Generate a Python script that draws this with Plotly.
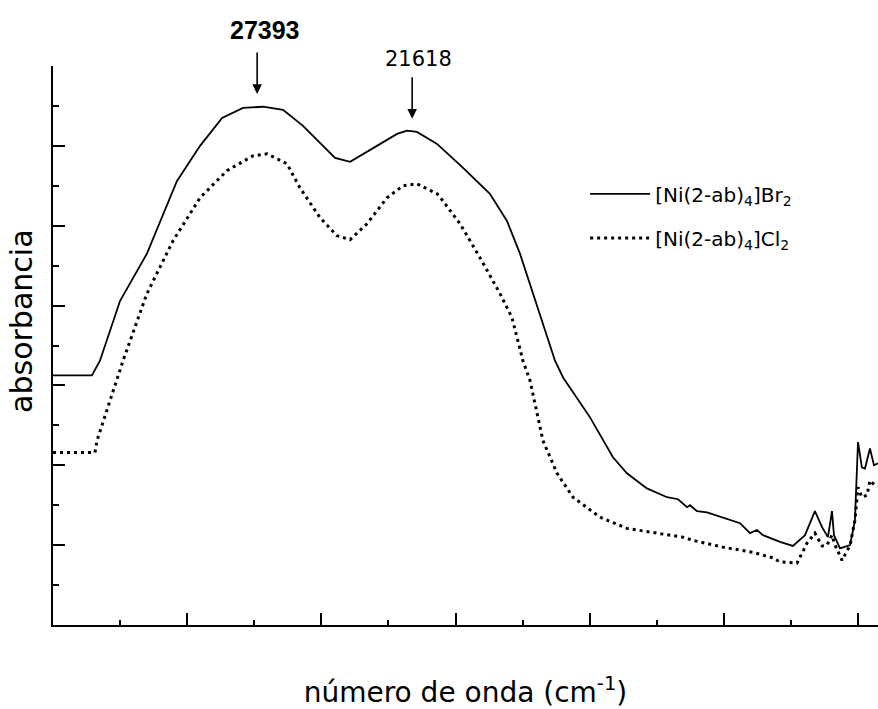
import plotly.graph_objects as go

# Wavenumber (cm-1) and absorbance (arb. units)
br_wavenumber = [35000, 33550, 33250, 32500, 31500, 30380, 29520, 28700, 27920, 27175,
                 26430, 25685, 24490, 23930, 22930, 22180, 21810, 21440, 20690, 19720,
                 18720, 18085, 17600, 16855, 16295, 15995, 14990, 14135, 13615, 12870,
                 12120, 11710, 11375, 11265, 11005, 10630, 9400, 9030, 8770, 8545,
                 7910, 7430, 6980, 6610, 6345, 6125, 5975, 5900, 5675, 5300,
                 5120, 5005, 4860, 4745, 4560, 4410, 4260]
br_absorb = [3.125, 3.125, 3.31, 4.06, 4.65, 5.56, 6.0, 6.35, 6.475, 6.49,
             6.45, 6.25, 5.85, 5.8, 6.0, 6.15, 6.19, 6.175, 6.025, 5.725,
             5.4, 5.06, 4.65, 3.9, 3.31, 3.1, 2.6, 2.1, 1.9, 1.71,
             1.6, 1.575, 1.475, 1.5, 1.425, 1.41, 1.275, 1.15, 1.19, 1.125,
             1.04, 0.99, 1.125, 1.425, 1.225, 1.1, 1.425, 1.125, 0.96, 1.0,
             1.31, 2.29, 1.975, 1.96, 2.21, 2.0, 2.025]

cl_wavenumber = [35000, 33435, 33360, 32875, 32390, 31500, 30530, 29520, 28515, 27550,
                 27025, 26280, 25800, 25050, 24420, 23930, 23300, 22555, 21960, 21440,
                 20690, 20470, 19835, 19090, 18345, 17900, 17490, 17225, 16745, 16220,
                 15625, 14620, 13615, 12495, 11525, 11155, 10035, 8920, 8170, 7910,
                 7280, 6905, 6610, 6345, 6160, 5975, 5860, 5600, 5300, 5120,
                 5005, 4860, 4670, 4560, 4300]
cl_absorb = [2.16, 2.16, 2.31, 2.81, 3.31, 4.15, 4.81, 5.35, 5.69, 5.875,
             5.9, 5.775, 5.475, 5.1, 4.875, 4.825, 5.025, 5.35, 5.5, 5.525,
             5.4, 5.31, 5.025, 4.6, 4.15, 3.85, 3.31, 3.06, 2.31, 1.9,
             1.6, 1.35, 1.21, 1.15, 1.1, 1.06, 0.975, 0.91, 0.84, 0.79,
             0.775, 1.025, 1.15, 0.99, 1.0, 1.125, 1.0, 0.81, 1.0, 1.31,
             1.725, 1.6, 1.625, 1.81, 1.725]

series_names = ["[Ni(2-ab)<sub>4</sub>]Br<sub>2</sub>", "[Ni(2-ab)<sub>4</sub>]Cl<sub>2</sub>"]
peak_positions = [27393, 21618]
peak_labels = ["27393", "21618"]
peak_tips = [6.65, 6.34]

FONT = "DejaVu Sans"

fig = go.Figure()
fig.add_trace(go.Scatter(x=br_wavenumber, y=br_absorb, mode="lines", name=series_names[0],
                         legendgroup="a",
                         line=dict(color="black", width=1.8)))
fig.add_trace(go.Scatter(x=cl_wavenumber, y=cl_absorb, mode="lines", name=series_names[1],
                         legendgroup="b",
                         line=dict(color="black", width=3, dash="3px,4px")))

# peak arrows
for xp, yt in zip(peak_positions, peak_tips):
    fig.add_annotation(x=xp, y=yt, xref="x", yref="y", text="", showarrow=True,
                       ax=0, ay=-43, arrowhead=2, arrowsize=1.2, arrowwidth=1.6,
                       arrowcolor="black")
fig.add_annotation(x=peak_positions[0], y=1.064, xref="x", yref="paper",
                   xanchor="center", yanchor="middle", xshift=8,
                   text="<b>" + peak_labels[0] + "</b>", showarrow=False,
                   font=dict(family="Liberation Sans", size=25, color="black"))
fig.add_annotation(x=peak_positions[1], y=1.0125, xref="x", yref="paper",
                   xanchor="center", yanchor="middle", xshift=6,
                   text=peak_labels[1], showarrow=False,
                   font=dict(family=FONT, size=21, color="black"))

# y title
fig.add_annotation(x=-0.0376, y=0.544, xref="paper", yref="paper", text="absorbancia",
                   xanchor="center", yanchor="middle",
                   showarrow=False, textangle=-90,
                   font=dict(family=FONT, size=30, color="black"))

fig.update_layout(
    width=878, height=709,
    margin=dict(l=53, r=0, t=66, b=84),
    paper_bgcolor="white", plot_bgcolor="white",
    font=dict(family=FONT, color="black"),
    showlegend=True,
    legend=dict(x=0.645, y=0.806, xanchor="left", yanchor="top",
                bgcolor="rgba(0,0,0,0)", font=dict(family=FONT, size=20),
                itemwidth=60,
                traceorder="grouped", tracegroupgap=15),
    xaxis=dict(range=[35000, 4260], showgrid=False, zeroline=False,
               showline=True, linecolor="black", linewidth=2,
               ticks="inside", ticklen=12, tickwidth=2, tickcolor="black",
               tick0=0, dtick=5000, showticklabels=False,
               minor=dict(ticks="inside", ticklen=5, tickwidth=2, tickcolor="black", dtick=2500),
               title=dict(text="número de onda (cm<sup>-1</sup>)", standoff=63,
                          font=dict(family=FONT, size=28, color="black"))),
    yaxis=dict(range=[0, 7], showgrid=False, zeroline=False,
               showline=True, linecolor="black", linewidth=2,
               ticks="inside", ticklen=12, tickwidth=2, tickcolor="black",
               tick0=0, dtick=1, showticklabels=False,
               minor=dict(ticks="inside", ticklen=6, tickwidth=2, tickcolor="black", dtick=0.5)),
)

fig.write_html("out.html", config={"displayModeBar": False},
               post_script="document.body.style.margin='0';")
